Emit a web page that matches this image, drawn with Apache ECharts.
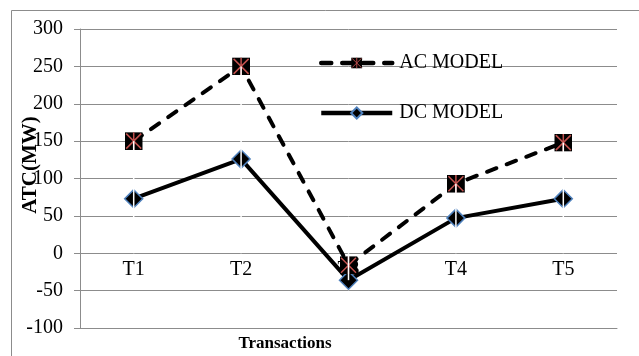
<!DOCTYPE html>
<html>
<head>
<meta charset="utf-8">
<script src="https://cdn.jsdelivr.net/npm/echarts@6/dist/echarts.min.js"></script>
<style>
  html, body { margin: 0; padding: 0; background: #fff; }
  #chart { width: 639px; height: 356px; }
</style>
</head>
<body>
<div id="chart"></div>
<script>
// Transactions and ATC values (MW) for both models
const categories = ['T1', 'T2', 'T3', 'T4', 'T5'];
const acModel = [150, 250, -16, 93, 148];
const dcModel = [73, 126, -36, 47, 73];
const yTicks = { min: -100, max: 300, step: 50 };

const FONT = 'Liberation Serif';
const GRID_GRAY = '#8c8c8c';

// Star marker: black square with a red cross and a red vertical stroke
const starSvg = "<svg xmlns='http://www.w3.org/2000/svg' width='36' height='36' viewBox='0 0 36 36'>" +
  "<rect width='36' height='36' fill='#000'/>" +
  "<path d='M3 3L33 33M33 3L3 33M18 0V36' stroke='#C0504D' stroke-width='3' fill='none'/></svg>";
const starSymbol = 'image://data:image/svg+xml;charset=utf-8,' + encodeURIComponent(starSvg);

// Drop lines run from the category axis to the farthest point of each transaction
const dropData = categories.map((c, i) => {
  const a = acModel[i], d = dcModel[i];
  return [i, Math.abs(a) >= Math.abs(d) ? a : d];
});

const chart = echarts.init(document.getElementById('chart'));
chart.setOption({
  animation: false,
  backgroundColor: '#fff',
  textStyle: { fontFamily: FONT },
  grid: { left: 80, top: 29, right: 22, bottom: 28, containLabel: false },
  legend: {
    orient: 'vertical',
    left: 314,
    top: 48,
    itemWidth: 71,
    itemHeight: 14,
    itemGap: 30,
    data: ['AC MODEL', 'DC MODEL'],
    lineStyle: { width: 4.5 },
    textStyle: { fontFamily: FONT, fontSize: 20, color: '#000', lineHeight: 20, padding: [0, 0, 0, 2] },
    selectedMode: false
  },
  xAxis: {
    type: 'category',
    data: categories,
    boundaryGap: true,
    // labels sit just under the zero line, where the category axis crosses
    axisLine: { onZero: false, lineStyle: { color: GRID_GRAY, width: 1 } },
    axisTick: { show: false },
    axisLabel: { color: '#000', fontFamily: FONT, fontSize: 20, margin: -68 },
    splitLine: { show: false }
  },
  yAxis: {
    type: 'value',
    min: yTicks.min,
    max: yTicks.max,
    interval: yTicks.step,
    axisLine: { show: true, lineStyle: { color: GRID_GRAY, width: 1 } },
    axisTick: { show: true, inside: false, length: 6, lineStyle: { color: GRID_GRAY } },
    axisLabel: { color: '#000', fontFamily: FONT, fontSize: 20, margin: 17 },
    splitLine: { show: true, lineStyle: { color: GRID_GRAY, width: 1 } }
  },
  graphic: [
    {
      type: 'rect',
      shape: { x: 11.5, y: 10.5, width: 700, height: 400 },
      style: { fill: 'none', stroke: '#8c8c8c', lineWidth: 1 },
      silent: true,
      z: -10
    },
    {
      type: 'text',
      x: 31, y: 165,
      rotation: Math.PI / 2,
      style: {
        text: 'ATC(MW)', fontFamily: FONT, fontSize: 21, fontWeight: 'bold',
        fill: '#000', align: 'center', verticalAlign: 'middle'
      },
      z: 10
    },
    {
      type: 'text',
      x: 285, y: 344,
      style: {
        text: 'Transactions', fontFamily: FONT, fontSize: 17, fontWeight: 'bold',
        fill: '#000', align: 'center', verticalAlign: 'middle'
      }
    }
  ],
  series: [
    {
      name: 'AC MODEL',
      type: 'line',
      data: acModel,
      symbol: starSymbol,
      symbolSize: 18,
      showAllSymbol: true,
      lineStyle: { color: '#000', width: 4, type: [10, 11], cap: 'round' },
      itemStyle: { color: '#000' },
      z: 3
    },
    {
      name: 'DC MODEL',
      type: 'line',
      data: dcModel,
      symbol: 'diamond',
      symbolSize: 18,
      showAllSymbol: true,
      lineStyle: { color: '#000', width: 4 },
      itemStyle: { color: '#000', borderColor: '#4F81BD', borderWidth: 1.5 },
      z: 2
    },
    {
      name: 'drop',
      type: 'custom',
      data: dropData,
      silent: true,
      z: 6,
      renderItem: function (params, api) {
        const top = api.coord([api.value(0), api.value(1)]);
        const base = api.coord([api.value(0), 0]);
        return {
          type: 'line',
          shape: { x1: top[0], y1: top[1], x2: base[0], y2: base[1] },
          style: { stroke: '#fff', lineWidth: 1.5 }
        };
      }
    }
  ]
});
</script>
</body>
</html>
